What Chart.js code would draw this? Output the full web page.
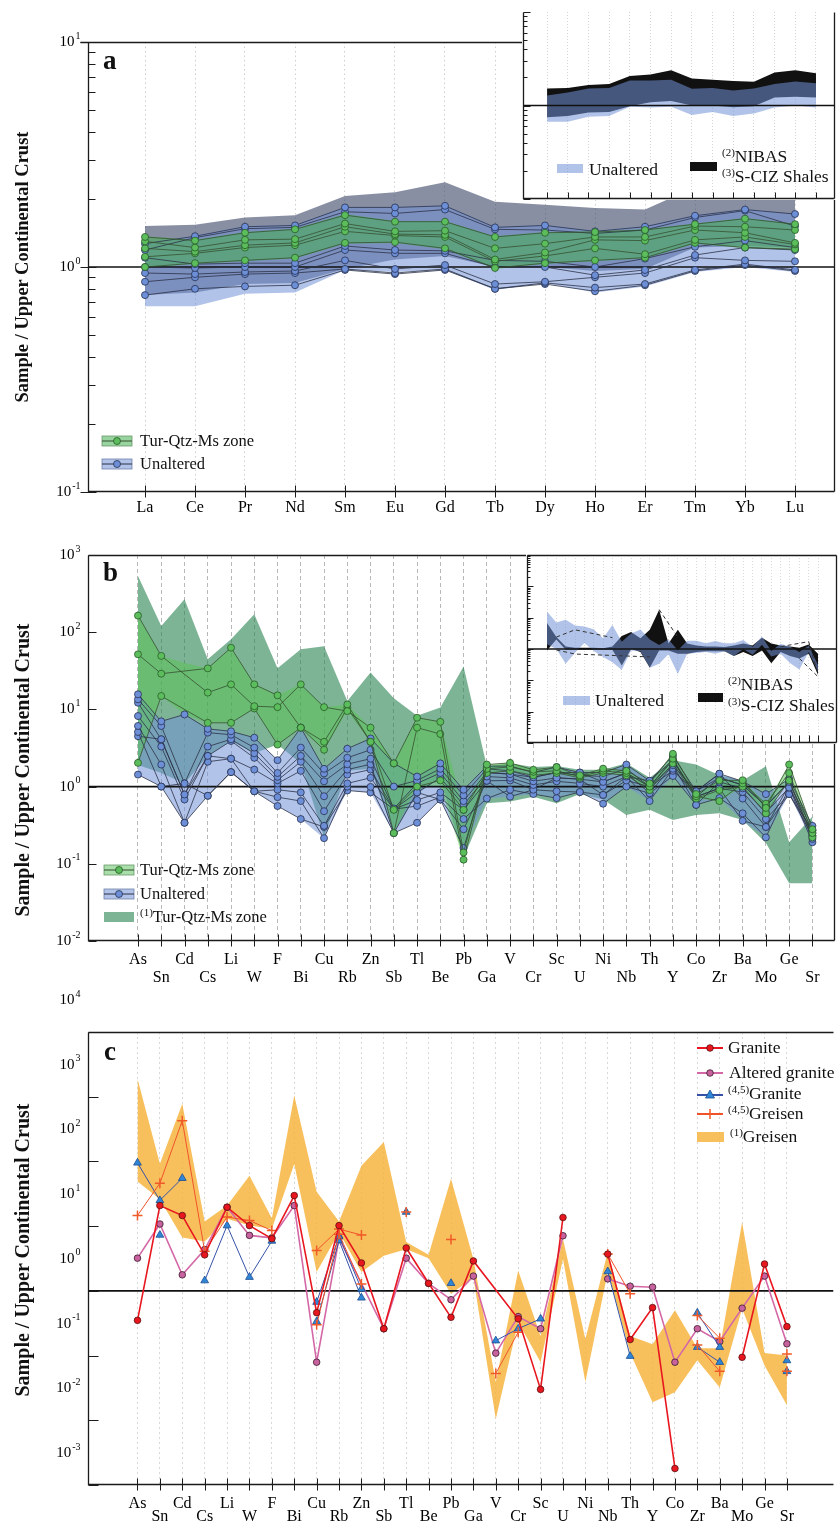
<!DOCTYPE html>
<html>
<head>
<meta charset="utf-8">
<title>Sample / Upper Continental Crust</title>
<script src="https://cdn.jsdelivr.net/npm/chart.js@4.4.1/dist/chart.umd.min.js"></script>
<style>
  body { margin: 0; background: #fff; }
  #page { position: relative; width: 840px; height: 1524px; overflow: hidden; font-family: "Liberation Serif", "Times New Roman", serif; color: #111; }
  canvas { position: absolute; }
  canvas.inset { background: #fff; }
  .ytitle { position: absolute; font-weight: bold; white-space: nowrap; transform: translate(-50%, -50%) rotate(-90deg); }
  .letter { position: absolute; font-weight: bold; font-size: 27px; line-height: 1; }
  .lrow { position: absolute; display: flex; align-items: center; height: 20px; white-space: nowrap; line-height: 1; }
  .lrow svg { flex: none; }
  .txt { position: absolute; white-space: nowrap; line-height: 1; }
  sup { font-size: 11px; vertical-align: 6px; line-height: 0; }
</style>
</head>
<body>
<div id="page">
  <canvas id="chartA" width="840" height="520" style="left:0;top:0"></canvas>
  <canvas id="chartB" width="840" height="460" style="left:0;top:530px"></canvas>
  <canvas id="chartC" width="840" height="534" style="left:0;top:990px"></canvas>
  <canvas id="insetA" class="inset" width="314" height="189" style="left:522px;top:11px"></canvas>
  <canvas id="insetB" class="inset" width="312" height="190" style="left:526px;top:554px"></canvas>

  <div class="ytitle" style="left:22px;top:267px;font-size:18.5px">Sample / Upper Continental Crust</div>
  <div class="ytitle" style="left:22px;top:770px;font-size:20px">Sample / Upper Continental Crust</div>
  <div class="ytitle" style="left:22px;top:1250px;font-size:20px">Sample / Upper Continental Crust</div>

  <div class="letter" style="left:103px;top:47px">a</div>
  <div class="letter" style="left:103px;top:559px">b</div>
  <div class="letter" style="left:104px;top:1038px">c</div>

  <!-- legend a -->
  <div class="lrow" style="left:101px;top:431px;font-size:16.5px">
    <svg width="32" height="14" style="margin-right:7px"><rect x="1" y="2" width="30" height="10" fill="rgba(70,175,80,0.55)" stroke="#6a9a6a" stroke-width="0.8"/><line x1="1" y1="7" x2="31" y2="7" stroke="#35502f" stroke-width="1"/><circle cx="16" cy="7" r="3.5" fill="#5bbd5b" stroke="#2a5a2a" stroke-width="0.8"/></svg><span>Tur-Qtz-Ms zone</span></div>
  <div class="lrow" style="left:101px;top:454px;font-size:16.5px">
    <svg width="32" height="14" style="margin-right:7px"><rect x="1" y="2" width="30" height="10" fill="rgba(115,145,215,0.55)" stroke="#7080a8" stroke-width="0.8"/><line x1="1" y1="7" x2="31" y2="7" stroke="#2b3146" stroke-width="1"/><circle cx="16" cy="7" r="3.5" fill="#6d8fd8" stroke="#27314f" stroke-width="0.8"/></svg><span>Unaltered</span></div>

  <!-- legend b -->
  <div class="lrow" style="left:103px;top:860px;font-size:16.5px">
    <svg width="32" height="14" style="margin-right:5px"><rect x="1" y="2" width="30" height="10" fill="rgba(85,190,85,0.5)" stroke="#6a9a6a" stroke-width="0.8"/><line x1="1" y1="7" x2="31" y2="7" stroke="#35502f" stroke-width="1"/><circle cx="16" cy="7" r="3.5" fill="#5bbd5b" stroke="#2a5a2a" stroke-width="0.8"/></svg><span>Tur-Qtz-Ms zone</span></div>
  <div class="lrow" style="left:103px;top:884px;font-size:16.5px">
    <svg width="32" height="14" style="margin-right:5px"><rect x="1" y="2" width="30" height="10" fill="rgba(115,145,215,0.55)" stroke="#7080a8" stroke-width="0.8"/><line x1="1" y1="7" x2="31" y2="7" stroke="#2b3146" stroke-width="1"/><circle cx="16" cy="7" r="3.5" fill="#6d8fd8" stroke="#27314f" stroke-width="0.8"/></svg><span>Unaltered</span></div>
  <div class="lrow" style="left:103px;top:907px;font-size:16.5px">
    <svg width="32" height="14" style="margin-right:5px"><rect x="1" y="2" width="30" height="10" fill="rgba(40,130,80,0.6)"/></svg><span><sup>(1)</sup>Tur-Qtz-Ms zone</span></div>

  <!-- legend c -->
  <div class="lrow" style="left:696px;top:1038px;font-size:17.5px">
    <svg width="28" height="14" style="margin-right:4px"><line x1="1" y1="7" x2="27" y2="7" stroke="#e8161e" stroke-width="2"/><circle cx="14" cy="7" r="3.3" fill="#e8161e" stroke="#5a1010" stroke-width="0.8"/></svg><span>Granite</span></div>
  <div class="lrow" style="left:696px;top:1063px;font-size:17.5px">
    <svg width="28" height="14" style="margin-right:5px"><line x1="1" y1="7" x2="27" y2="7" stroke="#d468a6" stroke-width="2"/><circle cx="14" cy="7" r="3.3" fill="#c8629f" stroke="#3a1a2c" stroke-width="0.8"/></svg><span>Altered granite</span></div>
  <div class="lrow" style="left:696px;top:1084px;font-size:17.5px">
    <svg width="28" height="14" style="margin-right:4px"><line x1="1" y1="8" x2="27" y2="8" stroke="#3552a8" stroke-width="2"/><polygon points="14,3 18.5,11 9.5,11" fill="#2f86d6" stroke="#1d4c90" stroke-width="0.8"/></svg><span><sup>(4,5)</sup>Granite</span></div>
  <div class="lrow" style="left:696px;top:1104px;font-size:17.5px">
    <svg width="28" height="14" style="margin-right:4px"><line x1="1" y1="7" x2="27" y2="7" stroke="#f0522a" stroke-width="2"/><line x1="14" y1="2" x2="14" y2="12" stroke="#f05a28" stroke-width="1.5"/></svg><span><sup>(4,5)</sup>Greisen</span></div>
  <div class="lrow" style="left:696px;top:1127px;font-size:17.5px">
    <svg width="30" height="14" style="margin-right:4px"><rect x="1" y="2" width="27" height="10" fill="rgba(246,178,56,0.82)"/></svg><span><sup>(1)</sup>Greisen</span></div>

  <!-- inset a legend -->
  <svg style="position:absolute;left:556px;top:163px" width="28" height="11"><rect x="1" y="1" width="26" height="9" fill="rgba(115,145,215,0.55)"/></svg>
  <div class="txt" style="left:589px;top:161px;font-size:17.5px">Unaltered</div>
  <svg style="position:absolute;left:689px;top:161px" width="30" height="11"><rect x="1" y="1" width="27" height="9" fill="#111"/></svg>
  <div class="txt" style="left:722px;top:148px;font-size:17.5px"><sup>(2)</sup>NIBAS</div>
  <div class="txt" style="left:722px;top:168px;font-size:17.5px"><sup>(3)</sup>S-CIZ Shales</div>

  <!-- inset b legend -->
  <svg style="position:absolute;left:562px;top:695px" width="30" height="11"><rect x="1" y="1" width="27" height="9" fill="rgba(115,145,215,0.55)"/></svg>
  <div class="txt" style="left:595px;top:692px;font-size:17.5px">Unaltered</div>
  <svg style="position:absolute;left:697px;top:692px" width="28" height="11"><rect x="1" y="1" width="25" height="9" fill="#111"/></svg>
  <div class="txt" style="left:728px;top:676px;font-size:17.5px"><sup>(2)</sup>NIBAS</div>
  <div class="txt" style="left:728px;top:697px;font-size:17.5px"><sup>(3)</sup>S-CIZ Shales</div>
</div>

<script>
// element order along the x axis
const reeLabels = ['La','Ce','Pr','Nd','Sm','Eu','Gd','Tb','Dy','Ho','Er','Tm','Yb','Lu'];
const traceLabels = ['As','Sn','Cd','Cs','Li','W','F','Bi','Cu','Rb','Zn','Sb','Tl','Be','Pb',
                     'Ga','V','Cr','Sc','U','Ni','Nb','Th','Y','Co','Zr','Ba','Mo','Ge','Sr'];

// ---- a: REE, Tur-Qtz-Ms samples
const turA1 = [1.36,1.31,1.42,1.47,1.70,1.59,1.59,1.36,1.42,1.43,1.46,1.55,1.64,1.55];
const turA2 = [1.30,1.22,1.32,1.33,1.56,1.44,1.45,1.21,1.27,1.36,1.36,1.52,1.51,1.46];
const turA3 = [1.21,1.17,1.25,1.28,1.51,1.40,1.39,1.08,1.16,1.32,1.31,1.46,1.42,1.28];
const turA4 = [1.11,1.15,1.22,1.25,1.44,1.38,1.36,1.06,1.12,1.21,1.14,1.32,1.36,1.26];
const turA5 = [1.00,1.04,1.07,1.10,1.28,1.29,1.21,0.99,1.04,1.07,1.10,1.28,1.22,1.20];
// a: unaltered samples
const unA1 = [1.27,1.37,1.51,1.53,1.84,1.84,1.87,1.50,1.53,1.44,1.51,1.69,1.80,1.72];
const unA2 = [1.19,1.35,1.48,1.50,1.76,1.73,1.80,1.47,1.46,1.41,1.46,1.66,1.78,1.52];
const unA3 = [1.10,1.03,1.04,1.04,1.24,1.19,1.18,1.07,1.06,1.00,1.09,1.23,1.31,1.22];
const unA4 = [1.00,0.99,1.00,1.00,1.19,1.15,1.15,1.00,1.00,0.92,0.97,1.13,1.22,1.19];
const unA5 = [0.94,0.93,0.95,0.96,1.07,0.98,1.02,0.84,0.86,0.90,0.94,1.10,1.07,1.06];
const unA6 = [0.86,0.90,0.93,0.94,0.98,0.94,0.98,0.80,0.85,0.81,0.84,0.97,1.03,0.97];
const unA7 = [0.75,0.80,0.82,0.83,0.97,0.93,0.97,0.80,0.84,0.78,0.83,0.96,1.02,0.96];
// a: ranges
const turBandHi = [1.37,1.32,1.43,1.48,1.72,1.60,1.60,1.37,1.43,1.44,1.47,1.56,1.65,1.56];
const turBandLo = [0.99,1.03,1.06,1.09,1.27,1.28,1.20,0.98,1.03,1.06,1.09,1.27,1.21,1.19];
const unBandHi  = [1.28,1.38,1.52,1.54,1.85,1.85,1.88,1.51,1.54,1.45,1.52,1.70,1.81,1.73];
const unBandLo  = [0.67,0.67,0.76,0.77,0.97,0.95,0.97,0.79,0.85,0.77,0.82,0.95,1.00,0.95];
const nibasHi   = [1.52,1.54,1.66,1.70,2.07,2.15,2.38,1.95,1.89,1.83,1.80,2.26,2.38,2.21];
const nibasLo   = [0.75,0.77,0.84,0.85,0.98,1.08,1.12,1.00,1.00,0.96,0.98,1.22,1.24,1.22];

// ---- b: trace elements, Tur-Qtz-Ms samples (Cd not analysed)
const turB1 = [164,49.3,null,16.5,21.1,11.0,10.7,21.1,10.7,9.5,5.8,2.0,7.8,6.9,0.14,1.93,2.03,1.65,1.79,1.40,1.71,1.60,1.10,2.66,0.80,1.20,1.21,0.53,1.93,0.28];
const turB2 = [51.7,29.0,null,34.0,63.0,21.1,15.2,5.8,3.8,11.6,3.8,0.25,5.8,4.8,0.113,1.70,1.80,1.55,1.60,1.35,1.60,1.50,1.00,2.30,0.75,0.65,1.10,0.60,1.50,0.25];
const turB3 = [2.03,14.9,null,6.7,6.7,10.3,3.5,5.8,3.0,10.5,3.8,0.5,1.0,1.2,0.5,1.50,1.60,1.40,1.50,1.30,1.50,1.40,0.90,2.00,0.70,0.90,1.00,0.45,1.20,0.22];
// b: unaltered samples
const unB1 = [15.7,7.0,8.6,5.6,5.2,4.3,2.2,5.8,1.7,3.1,4.2,2.0,1.35,2.0,0.91,1.84,1.84,1.53,1.79,1.52,1.52,1.93,1.19,2.5,0.87,1.47,1.17,0.80,1.26,0.31];
const unB2 = [13.5,6.1,1.1,5.0,4.7,3.2,1.5,3.2,1.48,2.36,3.0,1.0,1.2,1.7,0.77,1.70,1.60,1.32,1.52,1.40,1.35,1.70,1.00,2.20,0.74,1.30,1.05,0.56,1.15,0.27];
const unB3 = [12.2,4.1,0.79,3.3,4.1,2.7,1.34,2.5,1.17,1.95,2.3,0.52,1.1,1.5,0.65,1.52,1.45,1.17,1.30,1.25,1.15,1.50,0.82,1.90,0.58,1.15,0.95,0.46,0.97,0.25];
const unB4 = [8.2,3.3,0.68,2.5,3.9,2.36,1.21,2.1,0.75,1.66,1.95,0.25,0.84,1.3,0.58,1.35,1.30,1.05,1.17,1.10,1.00,1.35,0.65,1.70,0.74,0.95,0.85,0.38,0.80,0.23];
const unB5 = [6.1,1.93,0.34,2.1,2.3,1.66,1.1,1.6,0.48,1.43,1.66,0.51,0.67,0.84,0.50,1.19,1.20,0.91,0.87,0.85,0.78,1.20,1.00,1.60,0.87,1.47,0.70,0.30,1.05,0.21];
const unB6 = [5.1,1.0,0.34,0.76,1.54,0.87,0.91,0.84,0.31,1.1,1.3,0.51,0.56,0.73,0.38,0.70,0.91,0.80,0.71,0.85,0.60,1.00,0.82,1.37,0.58,0.71,0.45,0.22,0.97,0.19];
const unB7 = [4.5,4.1,0.79,2.5,2.3,0.87,0.73,0.65,0.215,1.0,0.99,0.25,0.34,0.68,0.28,1.19,0.74,0.91,1.30,1.25,0.78,1.35,1.19,2.20,0.74,0.95,0.36,0.30,0.80,0.27];
const unB8 = [1.43,1.0,1.1,0.76,1.54,0.87,0.56,0.38,0.30,0.89,0.84,0.51,0.84,0.68,0.16,1.52,1.45,1.32,1.52,1.52,1.15,1.50,1.00,1.90,0.87,1.30,1.05,0.56,1.15,0.23];
// b: ranges
const turBHi  = [164,49.3,40,34,63,21.1,15.2,21.1,10.7,11.6,5.8,2.0,7.8,6.9,0.5,1.93,2.03,1.65,1.79,1.40,1.71,1.60,1.10,2.66,0.80,1.20,1.21,0.60,1.93,0.28];
const turBLo  = [2.03,14.9,8.6,6.7,6.7,10.3,3.5,5.8,3.0,9.5,3.8,0.25,1.0,1.0,0.113,1.50,1.60,1.40,1.50,1.30,1.50,1.40,0.90,2.00,0.70,0.65,1.00,0.45,1.20,0.22];
const unBHi   = [15.7,7.0,8.6,5.6,5.2,4.3,2.2,5.8,1.7,3.1,4.2,2.0,1.35,2.0,0.91,1.84,1.84,1.53,1.79,1.52,1.52,1.93,1.19,2.5,0.87,1.47,1.17,0.80,1.26,0.31];
const unBLo   = [1.43,1.0,0.34,0.76,1.54,0.87,0.56,0.38,0.215,0.89,0.84,0.25,0.34,0.68,0.16,0.70,0.74,0.80,0.71,0.85,0.60,1.00,0.65,1.37,0.58,0.71,0.36,0.22,0.80,0.19];
const zoneHi  = [533,120,268,44.7,81,171,34,60,66,12.8,30,13.9,8.3,10.6,36,1.84,2.0,1.8,1.85,1.65,1.65,2.0,1.3,2.2,1.93,1.4,1.2,1.83,0.19,0.41];
const zoneLo  = [1.9,1.5,1.1,2.5,3.9,2.7,3.5,2.0,0.22,1.6,1.7,0.25,0.8,1.3,0.12,0.61,0.64,0.74,0.61,0.80,0.68,0.43,0.50,0.37,0.43,0.45,0.37,0.186,0.056,0.056];
const nibasBHi = [6.7,2.4,1.2,1.1,1.1,1.1,1.05,1.2,2.6,3.5,2.2,4.1,18,1.5,4.1,1.5,1.3,1.2,1.2,1.15,1.3,1.5,1.3,2.3,1.5,1.3,1.2,1.1,1.4,0.7];
const nibasBLo = [0.9,2.0,0.95,0.95,0.95,0.95,0.95,0.95,0.3,1.0,0.8,0.25,0.9,0.9,0.7,0.7,0.8,0.85,0.85,0.85,0.6,0.8,0.6,0.9,0.35,0.8,0.6,0.5,0.7,0.15];
const shaleHi = [null,2.4,null,4.1,null,null,null,2.3,null,null,null,null,18,null,2.4,null,null,null,null,null,null,null,null,null,null,1.19,null,null,1.72,0.16];
const shaleLo = [null,0.93,null,0.69,null,null,null,null,null,null,null,0.56,null,null,null,null,null,null,null,null,null,null,null,null,null,null,null,0.5,null,0.13];

// ---- c: granite and greisen
const granite   = [0.35,20.8,14.6,3.6,19.6,10.2,6.4,29.7,0.46,10.2,2.7,0.26,4.6,1.31,0.39,2.9,null,0.37,0.03,13.6,null,3.7,0.177,0.55,0.0018,null,null,0.094,2.6,0.28];
const altered   = [3.2,10.8,1.77,4.35,19.6,7.2,6.6,20.8,0.079,6.5,null,0.26,3.2,1.3,0.73,1.69,0.109,0.40,0.26,7.1,null,1.53,1.18,1.14,0.079,0.26,0.165,0.54,1.69,0.152];
const granite45a = [95,25,55,null,null,null,null,null,0.67,7.0,1.07,null,16.5,null,1.31,null,0.17,0.26,0.37,null,null,1.99,0.098,null,null,0.457,0.135,null,null,0.084];
const granite45b = [null,7.3,null,1.44,10.2,1.63,5.9,null,0.336,6.0,0.78,null,null,null,null,null,null,null,null,null,null,null,null,null,null,0.135,0.079,null,null,0.057];
const greisen45a = [14.6,46,427,4.1,13.8,12.2,8.55,null,4.2,9.0,7.3,null,16.5,null,6.2,null,0.053,0.23,null,null,null,3.7,0.9,null,null,0.415,0.186,null,null,0.106];
const greisen45b = [null,null,null,null,null,null,null,null,0.30,7.5,1.28,null,null,null,null,null,null,null,null,null,null,null,null,null,null,0.146,0.057,null,null,0.057];
const greisenHi = [1890,92,776,11.8,20.8,60,13.3,1040,34,11.8,86,199,5.7,3.6,54,3.1,0.039,2.06,0.2,6.4,0.18,4.0,0.2,0.15,0.5,0.13,0.13,11.5,0.11,0.1];
const greisenLo = [49,26,6.7,5.8,13,10.2,9.1,91,1.95,8,1.95,3.5,4.4,3.2,0.9,1.6,0.0105,0.33,0.079,3.1,0.039,1.95,0.11,0.019,0.027,0.085,0.032,0.53,0.07,0.017];
// a missing value here breaks the line, elsewhere the line just runs past it
const noLink = ['Ni', 'Zr', 'Ba'];

const pts = arr => arr.map((v, i) => ({ x: i, y: v }));
const sparse = arr => pts(arr).filter(p => p.y !== null);
const linked = arr => pts(arr).filter(p => p.y !== null || noLink.includes(traceLabels[p.x]));

const BLUE = { line: '#2b3146', fill: '#6d8fd8', edge: '#27314f' };
const GREEN = { line: '#35502f', fill: '#5bbd5b', edge: '#2a5a2a' };

function band(hi, lo, color, order) {
  return [
    { data: pts(hi), fill: '+1', backgroundColor: color, borderColor: 'transparent', borderWidth: 0, pointRadius: 0, order: order },
    { data: pts(lo), fill: false, borderColor: 'transparent', borderWidth: 0, pointRadius: 0, order: order }
  ];
}

function sample(arr, look, order, r) {
  return {
    data: pts(arr), spanGaps: true, fill: false, order: order,
    borderColor: look.line, borderWidth: 0.8,
    pointRadius: r, pointBackgroundColor: look.fill, pointBorderColor: look.edge, pointBorderWidth: 0.8
  };
}

function unity(xr) {
  return { data: [{ x: xr[0], y: 1 }, { x: xr[1], y: 1 }], borderColor: '#111', borderWidth: 1.6, pointRadius: 0, fill: false, order: 4 };
}

// frame, ticks and tick labels, placed with the chart's own scales
function sci(ctx, e, xr, yc) {
  const sup = String(e);
  ctx.font = '15px "Liberation Serif", serif';
  const wb = ctx.measureText('10').width;
  ctx.font = '10px "Liberation Serif", serif';
  const ws = ctx.measureText(sup).width;
  const x0 = xr - wb - ws - 1;
  ctx.textAlign = 'left';
  ctx.textBaseline = 'middle';
  ctx.font = '15px "Liberation Serif", serif';
  ctx.fillText('10', x0, yc);
  ctx.font = '10px "Liberation Serif", serif';
  ctx.fillText(sup, x0 + wb + 1, yc - 6);
}

const deco = {
  id: 'deco',
  afterDatasetsDraw(chart, args, o) {
    const { ctx, chartArea: a, scales: { x, y } } = chart;
    const L = Math.round(a.left) + 0.5, R = Math.round(a.right) - 0.5;
    const T = Math.round(a.top) + 0.5, B = Math.round(a.bottom) - 0.5;
    ctx.save();
    ctx.strokeStyle = '#1b1b1b';
    ctx.fillStyle = '#000';
    ctx.lineWidth = 1.3;
    ctx.beginPath();
    ctx.moveTo(L, T); ctx.lineTo(L, B); ctx.lineTo(R, B);
    if (o.right) { ctx.moveTo(R, B); ctx.lineTo(R, T); }
    if (o.top) { ctx.moveTo(L - (o.topOut || 0), T); ctx.lineTo(R, T); }
    ctx.stroke();

    ctx.lineWidth = 1;
    ctx.beginPath();
    o.labels.forEach((name, i) => {
      const px = Math.round(x.getPixelForValue(i)) + 0.5;
      ctx.moveTo(px, B - o.xTick[0]);
      ctx.lineTo(px, B + o.xTick[1]);
    });
    const e0 = o.exps[0], e1 = o.exps[o.exps.length - 1];
    o.exps.forEach(e => {
      const py = Math.round(y.getPixelForValue(10 ** e)) + 0.5;
      ctx.moveTo(L - o.yTick[1], py);
      ctx.lineTo(L + o.yTick[0], py);
    });
    if (o.minor) {
      for (let e = e0; e < e1; e++) {
        for (let k = 2; k < 10; k++) {
          const py = Math.round(y.getPixelForValue(k * 10 ** e)) + 0.5;
          ctx.moveTo(L, py);
          ctx.lineTo(L + o.minor, py);
        }
      }
    }
    ctx.stroke();

    if (o.rows) {
      ctx.font = '16px "Liberation Serif", serif';
      ctx.textAlign = 'center';
      ctx.textBaseline = 'middle';
      o.labels.forEach((name, i) => ctx.fillText(name, x.getPixelForValue(i), B + o.rows[i % o.rows.length]));
      o.exps.forEach(e => sci(ctx, e, L - 8, y.getPixelForValue(10 ** e) + (o.labelOffset || 0)));
    }
    ctx.restore();
  }
};

function baseOptions(cfg) {
  return {
    responsive: false,
    animation: false,
    devicePixelRatio: 1,
    events: [],
    layout: { padding: cfg.pad },
    plugins: { legend: { display: false }, tooltip: { enabled: false }, deco: cfg.deco },
    scales: {
      x: {
        type: 'linear', min: cfg.x[0], max: cfg.x[1],
        afterBuildTicks: s => { s.ticks = cfg.deco.labels.map((_, i) => ({ value: i })); },
        ticks: { display: false },
        grid: { drawTicks: false, color: cfg.gridColor, lineWidth: 1 },
        border: { display: false, dash: cfg.gridDash }
      },
      y: { type: 'logarithmic', min: cfg.y[0], max: cfg.y[1], display: false }
    }
  };
}

// ---- a
const xA = [-1.14, 13.8];
new Chart(document.getElementById('chartA'), {
  type: 'line',
  data: { datasets: [
    ...[turA1, turA2, turA3, turA4, turA5].map(s => sample(s, GREEN, 1, 3.5)),
    ...[unA1, unA2, unA3, unA4, unA5, unA6, unA7].map(s => sample(s, BLUE, 2, 3.5)),
    unity(xA),
    ...band(turBandHi, turBandLo, 'rgba(70,175,80,0.55)', 9),
    ...band(unBandHi, unBandLo, 'rgba(115,145,215,0.55)', 10),
    ...band(nibasHi, nibasLo, 'rgba(58,68,100,0.6)', 11)
  ] },
  options: baseOptions({
    pad: { left: 88, right: 5, top: 42, bottom: 28 }, x: xA, y: [0.1, 10],
    gridColor: '#cfcfcf', gridDash: [1.5, 3],
    deco: { labels: reeLabels, rows: [16], exps: [-1, 0, 1], minor: 7, top: true, right: true, topOut: 8, xTick: [6, 6], yTick: [8, 8] }
  }),
  plugins: [deco]
});

// inset a: range of the reference rocks
const xAi = [-1.165, 13.92];
new Chart(document.getElementById('insetA'), {
  type: 'line',
  data: { datasets: [
    unity(xAi),
    ...band(unBandHi, unBandLo, 'rgba(115,145,215,0.55)', 10),
    ...band(nibasHi, nibasLo, '#111', 11)
  ] },
  options: baseOptions({
    pad: { left: 1, right: 1, top: 1, bottom: 1 }, x: xAi, y: [0.1, 10],
    gridColor: '#d6d6d6', gridDash: [1, 2],
    deco: { labels: reeLabels, rows: null, exps: [-1, 0, 1], minor: 4, top: false, right: true, xTick: [6, 0], yTick: [7, 0] }
  }),
  plugins: [deco]
});

// ---- b
const xB = [-2.15, 29.98];
new Chart(document.getElementById('chartB'), {
  type: 'line',
  data: { datasets: [
    ...[turB1, turB2, turB3].map(s => sample(s, GREEN, 1, 3.5)),
    ...[unB1, unB2, unB3, unB4, unB5, unB6, unB7, unB8].map(s => sample(s, BLUE, 2, 3.5)),
    unity(xB),
    ...band(turBHi, turBLo, 'rgba(85,195,80,0.5)', 9),
    ...band(unBHi, unBLo, 'rgba(115,145,215,0.55)', 10),
    ...band(zoneHi, zoneLo, 'rgba(40,130,80,0.6)', 11)
  ] },
  options: baseOptions({
    pad: { left: 88, right: 4, top: 25, bottom: 49 }, x: xB, y: [0.01, 1000],
    gridColor: '#b8b8b8', gridDash: [4, 3],
    deco: { labels: traceLabels, rows: [19, 37], exps: [-2, -1, 0, 1, 2, 3], minor: 0, top: true, right: true, xTick: [6, 6], yTick: [8, 0] }
  }),
  plugins: [deco]
});

// inset b
const xBi = [-2.14, 31.03];
new Chart(document.getElementById('insetB'), {
  type: 'line',
  data: { datasets: [
    { data: sparse(shaleHi), spanGaps: 4, borderColor: '#333', borderWidth: 1, borderDash: [4, 3], pointRadius: 0, fill: false, order: 1 },
    { data: sparse(shaleLo), spanGaps: 8, borderColor: '#333', borderWidth: 1, borderDash: [4, 3], pointRadius: 0, fill: false, order: 1 },
    unity(xBi),
    ...band(unBHi, unBLo, 'rgba(115,145,215,0.55)', 10),
    ...band(nibasBHi, nibasBLo, '#111', 11)
  ] },
  options: baseOptions({
    pad: { left: 1, right: 1, top: 1, bottom: 1 }, x: xBi, y: [0.001, 1000],
    gridColor: '#dadada', gridDash: [1, 2],
    deco: { labels: traceLabels, rows: null, exps: [-3, -2, -1, 0, 1, 2, 3], minor: 3, top: true, right: true, xTick: [7, 0], yTick: [6, 0] }
  }),
  plugins: [deco]
});

// ---- c
const xC = [-2.21, 31.08];
const line45 = (arr, color, style, r, fillC, edge) => ({
  data: pts(arr), spanGaps: false, fill: false, order: 2,
  borderColor: color, borderWidth: 1,
  pointStyle: style, pointRadius: r, pointBackgroundColor: fillC, pointBorderColor: edge, pointBorderWidth: style === 'cross' ? 1.5 : 0.8
});
new Chart(document.getElementById('chartC'), {
  type: 'line',
  data: { datasets: [
    { data: linked(granite), spanGaps: false, fill: false, order: 1, borderColor: '#e8161e', borderWidth: 1.6,
      pointRadius: 3.3, pointBackgroundColor: '#e8161e', pointBorderColor: '#5a1010', pointBorderWidth: 0.8 },
    line45(greisen45a, '#f0522a', 'cross', 5, '#f05a28', '#f05a28'),
    line45(greisen45b, '#f0522a', 'cross', 5, '#f05a28', '#f05a28'),
    line45(granite45a, '#3552a8', 'triangle', 4.5, '#2f86d6', '#1d4c90'),
    line45(granite45b, '#3552a8', 'triangle', 4.5, '#2f86d6', '#1d4c90'),
    { data: linked(altered), spanGaps: false, fill: false, order: 3, borderColor: '#d468a6', borderWidth: 1.6,
      pointRadius: 3.3, pointBackgroundColor: '#c8629f', pointBorderColor: '#3a1a2c', pointBorderWidth: 0.8 },
    unity(xC),
    ...band(greisenHi, greisenLo, 'rgba(246,178,56,0.82)', 10)
  ] },
  options: baseOptions({
    pad: { left: 88, right: 0, top: 42, bottom: 39 }, x: xC, y: [0.001, 10000],
    gridColor: '#d8d8d8', gridDash: [2, 3],
    deco: { labels: traceLabels, rows: [19, 32], exps: [-3, -2, -1, 0, 1, 2, 3, 4], minor: 0, top: true, right: false, labelOffset: -32, xTick: [6, 6], yTick: [10, 0] }
  }),
  plugins: [deco]
});
</script>
</body>
</html>
